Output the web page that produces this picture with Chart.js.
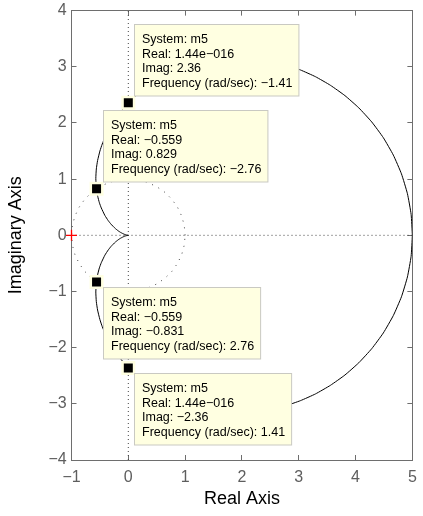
<!DOCTYPE html>
<html>
<head>
<meta charset="utf-8">
<script src="https://cdn.jsdelivr.net/npm/chart.js@4.4.1/dist/chart.umd.min.js"></script>
<style>
  html, body { margin: 0; padding: 0; background: #fff; }
</style>
</head>
<body>
<canvas id="nyquistChart" width="423" height="516"></canvas>
<script>
// axis limits and ticks
const xLimits = [-1, 5];
const yLimits = [-4, 4];
const tickStep = 1;

// Nyquist curve, positive frequencies (lower half)
const lowerRe = [5, 4.978, 4.913, 4.808, 4.665, 4.489, 4.284, 4.057, 3.813, 3.557, 3.294, 3.029, 2.766, 2.508, 2.257, 2.016, 1.787, 1.570, 1.367, 1.177, 1.0, 0.837, 0.686, 0.548, 0.422, 0.307, 0.203, 0.108, 0, -0.123, -0.240, -0.332, -0.404, -0.459, -0.5, -0.541, -0.563, -0.572, -0.561, -0.538, -0.509, -0.476, -0.412, -0.354, -0.305, -0.230, -0.177, -0.140, -0.093, -0.066, -0.043, -0.025, -0.011, -0.004, 0];
const lowerIm = [0, -0.374, -0.741, -1.094, -1.428, -1.738, -2.019, -2.269, -2.487, -2.671, -2.824, -2.944, -3.036, -3.100, -3.139, -3.156, -3.154, -3.135, -3.101, -3.056, -3.0, -2.936, -2.866, -2.791, -2.712, -2.631, -2.548, -2.464, -2.357, -2.215, -2.055, -1.903, -1.759, -1.625, -1.5, -1.330, -1.181, -1.009, -0.827, -0.692, -0.579, -0.488, -0.353, -0.262, -0.199, -0.122, -0.079, -0.054, -0.029, -0.017, -0.009, -0.004, -0.001, -0.0002, 0];

// Nyquist curve, negative frequencies (upper half)
const upperRe = [5, 4.978, 4.913, 4.808, 4.665, 4.489, 4.284, 4.057, 3.813, 3.557, 3.294, 3.029, 2.766, 2.508, 2.257, 2.016, 1.787, 1.570, 1.367, 1.177, 1.0, 0.837, 0.686, 0.548, 0.422, 0.307, 0.203, 0.108, 0, -0.123, -0.240, -0.332, -0.404, -0.459, -0.5, -0.541, -0.563, -0.572, -0.561, -0.538, -0.509, -0.476, -0.412, -0.354, -0.305, -0.230, -0.177, -0.140, -0.093, -0.066, -0.043, -0.025, -0.011, -0.004, 0];
const upperIm = [0, 0.374, 0.741, 1.094, 1.428, 1.738, 2.019, 2.269, 2.487, 2.671, 2.824, 2.944, 3.036, 3.100, 3.139, 3.156, 3.154, 3.135, 3.101, 3.056, 3.0, 2.936, 2.866, 2.791, 2.712, 2.631, 2.548, 2.464, 2.357, 2.215, 2.055, 1.903, 1.759, 1.625, 1.5, 1.330, 1.181, 1.009, 0.827, 0.692, 0.579, 0.488, 0.353, 0.262, 0.199, 0.122, 0.079, 0.054, 0.029, 0.017, 0.009, 0.004, 0.001, 0.0002, 0];

// dotted unit circle
const circleRe = [1, 0.985, 0.940, 0.866, 0.766, 0.643, 0.5, 0.342, 0.174, 0, -0.174, -0.342, -0.5, -0.643, -0.766, -0.866, -0.940, -0.985, -1, -0.985, -0.940, -0.866, -0.766, -0.643, -0.5, -0.342, -0.174, 0, 0.174, 0.342, 0.5, 0.643, 0.766, 0.866, 0.940, 0.985, 1];
const circleIm = [0, 0.174, 0.342, 0.5, 0.643, 0.766, 0.866, 0.940, 0.985, 1, 0.985, 0.940, 0.866, 0.766, 0.643, 0.5, 0.342, 0.174, 0, -0.174, -0.342, -0.5, -0.643, -0.766, -0.866, -0.940, -0.985, -1, -0.985, -0.940, -0.866, -0.766, -0.643, -0.5, -0.342, -0.174, 0];

// critical point -1 + 0j
const criticalRe = [-1];
const criticalIm = [0];

// data tips
const systemName = 'm5';
const tipRe = [1.44e-16, -0.559, -0.559, 1.44e-16];
const tipIm = [2.36, 0.829, -0.831, -2.36];
const tipRealText = ['1.44e\u2212016', '\u22120.559', '\u22120.559', '1.44e\u2212016'];
const tipImagText = ['2.36', '0.829', '\u22120.831', '\u22122.36'];
const tipFreqText = ['\u22121.41', '\u22122.76', '2.76', '1.41'];

const toPoints = (xs, ys) => xs.map((x, i) => ({x: x, y: ys[i]}));

const axisGray = '#6e6e6e';
const labelGray = '#5e5e5e';
const fontFamily = '"Liberation Sans", Arial, Helvetica, sans-serif';

// MATLAB style datatip boxes
const dataTipPlugin = {
    id: 'dataTips',
    afterDatasetsDraw(chart) {
        const ctx = chart.ctx;
        const xs = chart.scales.x, ys = chart.scales.y;
        ctx.save();
        ctx.font = '12.5px ' + fontFamily;
        ctx.textBaseline = 'middle';
        for (let i = 0; i < tipRe.length; i++) {
            const px = xs.getPixelForValue(tipRe[i]);
            const py = ys.getPixelForValue(tipIm[i]);
            const lines = [
                'System: ' + systemName,
                'Real: ' + tipRealText[i],
                'Imag: ' + tipImagText[i],
                'Frequency (rad/sec): ' + tipFreqText[i]
            ];
            const w = Math.max(...lines.map(l => ctx.measureText(l).width)) + 14;
            const h = 71.5;
            const left = Math.round(px + 6) + 0.5;
            const top = Math.round(tipIm[i] > 0 ? py - 7 - h : py + 5) + 0.5;
            ctx.fillStyle = '#ffffe1';
            ctx.strokeStyle = '#c9c9c2';
            ctx.lineWidth = 1;
            ctx.fillRect(left, top, w, h);
            ctx.strokeRect(left, top, w, h);
            ctx.fillStyle = '#000';
            lines.forEach((l, k) => ctx.fillText(l, left + 7.5, top + 15 + k * 14.6));
        }
        ctx.restore();
    }
};

const boxAxis = (pos, showLabels) => ({
    type: 'linear',
    position: pos,
    min: (pos === 'top' || pos === 'bottom') ? xLimits[0] : yLimits[0],
    max: (pos === 'top' || pos === 'bottom') ? xLimits[1] : yLimits[1],
    grid: {display: true, drawOnChartArea: false, drawTicks: true, tickLength: -5, color: axisGray, lineWidth: 1},
    border: {display: true, color: axisGray, width: 1},
    ticks: {
        display: showLabels,
        stepSize: tickStep,
        autoSkip: false,
        maxRotation: 0,
        minRotation: 0,
        color: labelGray,
        font: {family: fontFamily, size: 16},
        padding: pos === 'bottom' ? 12.9 : 9.8,
        callback: v => String(v).replace('-', '\u2212')
    }
});

const xAxis = boxAxis('bottom', true);
xAxis.title = {display: true, text: 'Real Axis', color: '#000', font: {family: fontFamily, size: 18}, padding: {top: 0, bottom: 6.5}};
xAxis.afterFit = s => { s.height = 56; s.paddingLeft = 0; s.paddingRight = 0; };

const yAxis = boxAxis('left', true);
yAxis.title = {display: true, text: 'Imaginary Axis', color: '#000', font: {family: fontFamily, size: 18}, padding: {top: 5.5, bottom: 0}};
yAxis.afterFit = s => { s.width = 71.5; s.paddingTop = 0; s.paddingBottom = 0; };

const x2Axis = boxAxis('top', false);
x2Axis.afterFit = s => { s.height = 0; s.paddingLeft = 0; s.paddingRight = 0; };
const y2Axis = boxAxis('right', false);
y2Axis.afterFit = s => { s.width = 0; s.paddingTop = 0; s.paddingBottom = 0; };

const ctx = document.getElementById('nyquistChart').getContext('2d');
const nyquistChart = new Chart(ctx, {
    type: 'scatter',
    data: {
        datasets: [{
            // data tip markers
            data: toPoints(tipRe, tipIm),
            pointStyle: 'rect',
            pointRadius: 8.13,
            backgroundColor: '#000',
            borderColor: '#ffffe1',
            borderWidth: 2.5,
            showLine: false
        }, {
            // red + at the critical point
            data: toPoints(criticalRe, criticalIm),
            pointStyle: 'cross',
            pointRadius: 5.5,
            borderColor: '#ff0000',
            borderWidth: 1.3,
            showLine: false,
            clip: false
        }, {
            data: toPoints(lowerRe, lowerIm),
            showLine: true,
            borderColor: '#000',
            borderWidth: 1,
            pointRadius: 0,
            tension: 0.15
        }, {
            data: toPoints(upperRe, upperIm),
            showLine: true,
            borderColor: '#000',
            borderWidth: 1,
            pointRadius: 0,
            tension: 0.15
        }, {
            data: toPoints(circleRe, circleIm),
            showLine: true,
            borderColor: '#444',
            borderWidth: 1,
            borderDash: [1, 6],
            pointRadius: 0
        }, {
            data: toPoints(xLimits, [0, 0]),
            showLine: true,
            borderColor: '#444',
            borderWidth: 1,
            borderDash: [1, 3],
            pointRadius: 0
        }, {
            data: toPoints([0, 0], yLimits),
            showLine: true,
            borderColor: '#444',
            borderWidth: 1,
            borderDash: [1, 3],
            pointRadius: 0
        }]
    },
    options: {
        responsive: false,
        animation: false,
        devicePixelRatio: 1,
        events: [],
        layout: {padding: {top: 5, right: 4.3, left: 0, bottom: 0}},
        plugins: {
            legend: {display: false},
            tooltip: {enabled: false}
        },
        scales: {
            x: xAxis,
            y: yAxis,
            x2: x2Axis,
            y2: y2Axis
        }
    },
    plugins: [dataTipPlugin]
});
</script>
</body>
</html>
